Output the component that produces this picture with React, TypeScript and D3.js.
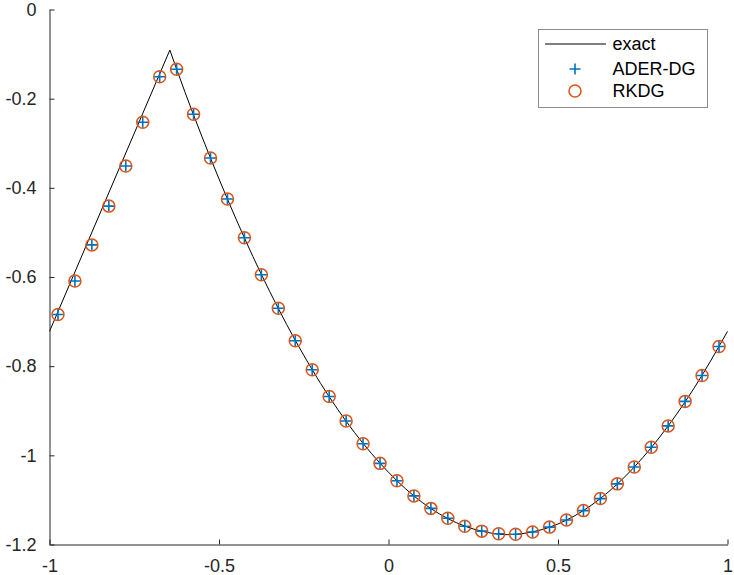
import { useEffect, useRef } from "react";
import * as d3 from "d3";

// cell centres of the numerical solutions
const cellX = [
  -0.975, -0.925, -0.875, -0.825, -0.775, -0.725, -0.675, -0.625, -0.575, -0.525,
  -0.475, -0.425, -0.375, -0.325, -0.275, -0.225, -0.175, -0.125, -0.075, -0.025,
  0.025, 0.075, 0.125, 0.175, 0.225, 0.275, 0.325, 0.375, 0.425, 0.475,
  0.525, 0.575, 0.625, 0.675, 0.725, 0.775, 0.825, 0.875, 0.925, 0.975,
];

const aderValues = [
  -0.684, -0.609, -0.528, -0.441, -0.351, -0.253, -0.151, -0.134, -0.235, -0.333,
  -0.425, -0.512, -0.595, -0.67, -0.743, -0.808, -0.868, -0.923, -0.974, -1.018,
  -1.057, -1.091, -1.119, -1.141, -1.159, -1.17, -1.176, -1.177, -1.172, -1.161,
  -1.145, -1.124, -1.097, -1.064, -1.026, -0.982, -0.934, -0.879, -0.821, -0.756,
];

const rkdgValues = [
  -0.684, -0.609, -0.528, -0.441, -0.351, -0.253, -0.151, -0.134, -0.235, -0.333,
  -0.425, -0.512, -0.595, -0.67, -0.743, -0.808, -0.868, -0.923, -0.974, -1.018,
  -1.057, -1.091, -1.119, -1.141, -1.159, -1.17, -1.176, -1.177, -1.172, -1.161,
  -1.145, -1.124, -1.097, -1.064, -1.026, -0.982, -0.934, -0.879, -0.821, -0.756,
];

// exact solution (kink at the peak)
const exactX = [-1, -0.645, -0.6, -0.5, -0.4, -0.3, -0.2, -0.1, 0, 0.1, 0.2, 0.3, 0.35, 0.4, 0.5, 0.6, 0.7, 0.8, 0.9, 1];
const exactY = [
  -0.722, -0.091, -0.186, -0.38, -0.554, -0.707, -0.839, -0.949, -1.038, -1.106,
  -1.151, -1.174, -1.178, -1.175, -1.154, -1.111, -1.046, -0.959, -0.851, -0.722,
];

const xTicks = [-1, -0.5, 0, 0.5, 1];
const yTicks = [0, -0.2, -0.4, -0.6, -0.8, -1, -1.2];
const legendLabels = ["exact", "ADER-DG", "RKDG"];

const W = 734;
const H = 575;
const FONT = "'Liberation Sans', Arial, sans-serif";
const FS = "18px";
const AXIS = "#262626";
const BLUE = "#0072BD";
const ORANGE = "#D95319";

export default function App() {
  const svgRef = useRef<SVGSVGElement>(null);

  useEffect(() => {
    const svg = d3.select(svgRef.current);
    svg.selectAll("*").remove();

    const left = 49.5, right = 727.5, top = 9.5, bottom = 544.5;
    const x = d3.scaleLinear().domain([-1, 1]).range([left, right]);
    const y = d3.scaleLinear().domain([-1.2, 0]).range([bottom, top]);

    // exact line: straight up to the kink, smooth after it
    const pts = exactX.map((v, i) => [v, exactY[i]] as [number, number]);
    const straight = d3.line<[number, number]>().x((d) => x(d[0])).y((d) => y(d[1]));
    const smooth = d3.line<[number, number]>().x((d) => x(d[0])).y((d) => y(d[1]))
      .curve(d3.curveMonotoneX);
    svg.append("path").attr("d", straight(pts.slice(0, 2)))
      .attr("fill", "none").attr("stroke", "#000").attr("stroke-width", 1);
    svg.append("path").attr("d", smooth(pts.slice(1)))
      .attr("fill", "none").attr("stroke", "#000").attr("stroke-width", 1);

    const s = 5.5;
    const plus = (g: any, cx: number, cy: number) => {
      g.append("path")
        .attr("d", `M${cx - s},${cy}H${cx + s}M${cx},${cy - s}V${cy + s}`)
        .attr("stroke", BLUE).attr("stroke-width", 1.6).attr("fill", "none");
    };
    const marks = svg.append("g");
    cellX.forEach((v, i) => plus(marks, x(v), y(aderValues[i])));
    svg.append("g").selectAll("circle").data(cellX).join("circle")
      .attr("cx", (d) => x(d))
      .attr("cy", (_d, i) => y(rkdgValues[i]))
      .attr("r", 6)
      .attr("fill", "none").attr("stroke", ORANGE).attr("stroke-width", 1.5);

    // axes, ticks pointing inward
    const xAxis = d3.axisBottom(x).tickValues(xTicks).tickSizeInner(-5).tickSizeOuter(0)
      .tickPadding(15).tickFormat((d) => String(d));
    const gx = svg.append("g").attr("transform", `translate(0,${bottom})`).call(xAxis);
    const yAxis = d3.axisLeft(y).tickValues(yTicks).tickSizeInner(-5).tickSizeOuter(0)
      .tickPadding(13).tickFormat((d) => String(d));
    const gy = svg.append("g").attr("transform", `translate(${left},0)`).call(yAxis);
    [gx, gy].forEach((g: any) => {
      g.select(".domain").attr("stroke", AXIS);
      g.selectAll("line").attr("stroke", AXIS);
      g.selectAll("text").attr("fill", AXIS).style("font-family", FONT).style("font-size", FS);
    });

    // legend
    const lg = svg.append("g");
    lg.append("rect").attr("x", 538.5).attr("y", 29.5).attr("width", 169).attr("height", 78)
      .attr("fill", "#fff").attr("stroke", "#8c8c8c").attr("stroke-width", 1);
    const rows = [44, 69, 91];
    lg.append("line").attr("x1", 545).attr("x2", 606).attr("y1", rows[0]).attr("y2", rows[0])
      .attr("stroke", "#000").attr("stroke-width", 1);
    plus(lg, 575, rows[1]);
    lg.append("circle").attr("cx", 575).attr("cy", rows[2]).attr("r", 6)
      .attr("fill", "none").attr("stroke", ORANGE).attr("stroke-width", 1.5);
    legendLabels.forEach((t, i) => {
      lg.append("text").attr("x", 612.5).attr("y", rows[i]).attr("dy", "0.35em")
        .attr("fill", "#000").style("font-family", FONT).style("font-size", FS).text(t);
    });
  }, []);

  return (
    <svg ref={svgRef} width={W} height={H}
      style={{ position: "absolute", left: 0, top: 0, background: "#fff" }} />
  );
}
